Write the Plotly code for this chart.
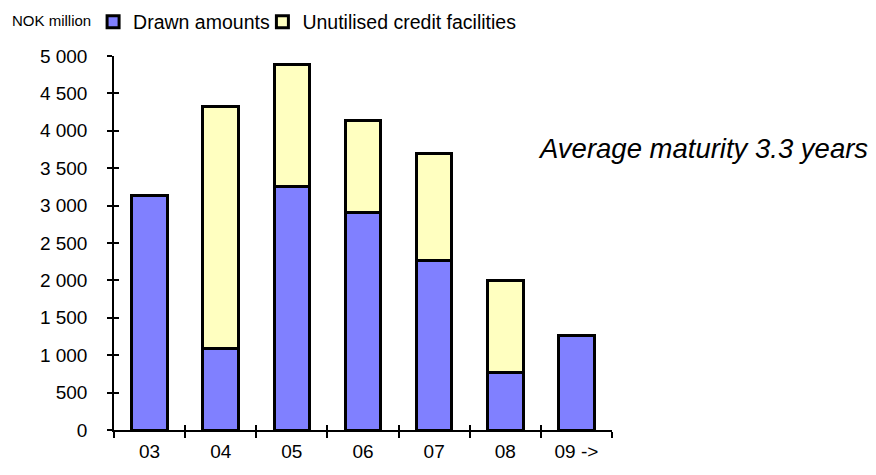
import plotly.graph_objects as go

years = ["03", "04", "05", "06", "07", "08", "09 ->"]
drawn = [3130, 1090, 3260, 2910, 2265, 765, 1270]
unutilised = [0, 3240, 1630, 1225, 1425, 1230, 0]

y_ticks = [0, 500, 1000, 1500, 2000, 2500, 3000, 3500, 4000, 4500, 5000]
y_tick_text = ["0", "500", "1 000", "1 500", "2 000", "2 500", "3 000",
               "3 500", "4 000", "4 500", "5 000"]

FONT = "Liberation Sans, Arial, sans-serif"
BORDER = dict(color="black", width=3)

fig = go.Figure()
fig.add_trace(go.Bar(x=years, y=drawn, name="Drawn amounts", legend="legend",
                     marker=dict(color="#8080FF", line=BORDER)))
fig.add_trace(go.Bar(x=years, y=unutilised, name="Unutilised credit facilities",
                     legend="legend2",
                     marker=dict(color="#FFFFC0", line=BORDER)))

# invisible helper trace so the overlay axes exist (inner half of crossing ticks)
fig.add_trace(go.Scatter(x=years, y=drawn, xaxis="x2", yaxis="y2",
                         mode="markers", marker=dict(opacity=0),
                         showlegend=False, hoverinfo="skip"))

legend_style = dict(orientation="h", xanchor="left", y=1.091, yanchor="middle",
                    font=dict(size=19.5, family=FONT), itemwidth=30,
                    bgcolor="rgba(0,0,0,0)")

fig.update_layout(
    width=876, height=475,
    margin=dict(l=114, r=264, t=56, b=45, autoexpand=False),
    paper_bgcolor="white", plot_bgcolor="white",
    barmode="stack", bargap=0.5,
    font=dict(family=FONT, color="black", size=19),
    showlegend=True,
    legend=dict(x=-0.042, **legend_style),
    legend2=dict(x=0.298, **legend_style),
    xaxis=dict(type="category", showline=True, linecolor="black", linewidth=1.5,
               ticks="outside", tickson="boundaries", ticklen=6, tickwidth=1.5,
               tickcolor="black", showgrid=False, zeroline=False, automargin=False,
               tickfont=dict(size=19), ticklabelstandoff=3),
    yaxis=dict(range=[0, 5000], tickvals=y_ticks, ticktext=y_tick_text,
               showline=True, linecolor="black", linewidth=1.5,
               ticks="outside", ticklen=5, tickwidth=1.5, tickcolor="black",
               showgrid=False, zeroline=False, automargin=False,
               tickfont=dict(size=19), ticklabelstandoff=16),
    xaxis2=dict(type="category", overlaying="x", matches="x", ticks="inside",
                tickson="boundaries", ticklen=5, tickwidth=1.5, tickcolor="black",
                showticklabels=False, showgrid=False, zeroline=False,
                side="bottom", anchor="y2", automargin=False),
    yaxis2=dict(overlaying="y", range=[0, 5000], tickvals=y_ticks, ticks="inside",
                ticklen=5, tickwidth=1.5, tickcolor="black", showticklabels=False,
                showgrid=False, zeroline=False, side="left", anchor="x2",
                automargin=False),
    annotations=[
        dict(text="NOK million", xref="paper", yref="paper", x=-0.208, y=1.095,
             xanchor="left", yanchor="middle", showarrow=False,
             font=dict(size=15, family=FONT)),
        dict(text="<i>Average maturity 3.3 years</i>", xref="paper", yref="paper",
             x=1.518, y=0.754, xanchor="right", yanchor="middle", showarrow=False,
             font=dict(size=27.5, family=FONT)),
    ],
)

fig.write_html("out.html")
